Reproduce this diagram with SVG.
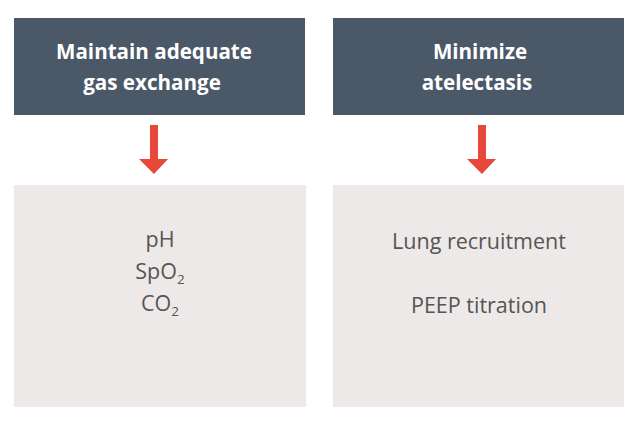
<svg xmlns="http://www.w3.org/2000/svg" width="640" height="427" viewBox="0 0 640 427">
<style>
.head{fill:#4a5868}
.body{fill:#ede9e8}
.ht{font-family:"Open Sans","Liberation Sans",sans-serif;font-weight:700;font-size:20.6px;fill:#ffffff;text-anchor:middle}
.bt{font-family:"Open Sans","Liberation Sans",sans-serif;font-size:21.5px;fill:#555555;text-anchor:middle}
.sub{font-size:13.5px}
.arr{fill:#e8483a}
</style>
<rect width="640" height="427" fill="#ffffff"/>
<g id="goal1">
<rect class="head" x="14" y="18" width="291" height="97"/>
<text class="ht" x="154" y="59">Maintain adequate</text>
<text class="ht" x="152" y="90">gas exchange</text>
</g>
<g id="goal2">
<rect class="head" x="333" y="18" width="291" height="97"/>
<text class="ht" x="480" y="59">Minimize</text>
<text class="ht" x="477" y="90">atelectasis</text>
</g>
<g id="detail1">
<rect class="body" x="14" y="185" width="292" height="222"/>
<text class="bt" x="160" y="247">pH</text>
<text class="bt" x="160" y="279">SpO<tspan class="sub" dy="5">2</tspan></text>
<text class="bt" x="160" y="311">CO<tspan class="sub" dy="5">2</tspan></text>
</g>
<g id="detail2">
<rect class="body" x="333" y="185" width="291" height="222"/>
<text class="bt" x="479" y="249">Lung recruitment</text>
<text class="bt" x="479" y="313">PEEP titration</text>
</g>
<g id="connectors">
<polygon class="arr" points="150,125 158,125 158,159 168,159 154,174 139,159 150,159"/>
<polygon class="arr" points="478,125 486,125 486,159 496,159 482,174 467,159 478,159"/>
</g>
</svg>
